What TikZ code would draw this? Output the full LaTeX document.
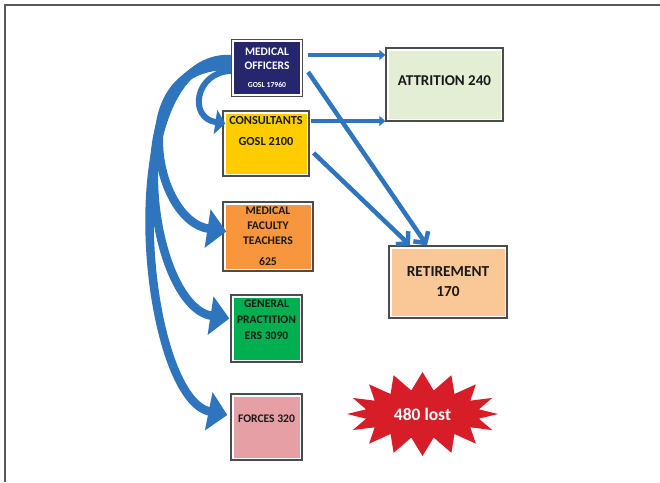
\documentclass[tikz,border=0pt]{standalone}
\usepackage{fontspec}
\setmainfont{Carlito}
\usetikzlibrary{arrows.meta,shapes.symbols}
\definecolor{arrowblue}{RGB}{46,117,190}
\definecolor{navy}{RGB}{38,38,110}
\definecolor{consyellow}{RGB}{255,204,0}
\definecolor{mftorange}{RGB}{247,150,60}
\definecolor{gpgreen}{RGB}{0,176,80}
\definecolor{forcespink}{RGB}{230,160,165}
\definecolor{attrgreen}{RGB}{228,238,212}
\definecolor{retpeach}{RGB}{250,200,150}
\definecolor{burstred}{RGB}{215,30,40}
\begin{document}
\begin{tikzpicture}[x=1pt, y=-1pt,
  box/.style={draw=black!70, line width=1.3pt, fill=white, inner sep=0pt, align=center, text=black!90,
    path picture={\fill[#1] ([shift={(2.5pt,2.5pt)}]path picture bounding box.south west) rectangle ([shift={(-2.5pt,-2.5pt)}]path picture bounding box.north east);}},
  sweep/.style={arrowblue, line width=8.5pt, -{Triangle[length=19pt,width=38pt]}},
  flat/.style={arrowblue, line width=4.5pt, -{Triangle[length=6pt,width=10pt]}},
  slant/.style={arrowblue, line width=4.5pt, -{Straight Barb[length=8pt,width=18pt]}}]
\useasboundingbox (0,0) rectangle (660,482);
\draw[black!65, line width=1.5pt] (5,482) -- (5,5) -- (660,5);

\node[box=navy, text=white, font=\bfseries\fontsize{11.5}{14}\selectfont, minimum width=71pt, minimum height=57pt] (mo) at (267,68) {MEDICAL\\OFFICERS\\[4pt]{\fontsize{7.7}{9}\selectfont GOSL 17960}};
\node[box=consyellow, font=\bfseries\fontsize{12.3}{13}\selectfont, minimum width=86pt, minimum height=65pt, text depth=26pt] (cons) at (266,143.5) {CONSULTANTS\\[8pt]GOSL 2100};
\node[box=mftorange, font=\bfseries\fontsize{11.7}{15}\selectfont, minimum width=90pt, minimum height=69pt] (mft) at (268,236.5) {MEDICAL\\FACULTY\\TEACHERS\\[6pt]625};
\node[box=gpgreen, font=\bfseries\fontsize{11.6}{16}\selectfont, minimum width=71pt, minimum height=67pt, text depth=18pt] (gp) at (266.5,328.5) {GENERAL\\PRACTITION\\ERS 3090};
\node[box=forcespink, font=\bfseries\fontsize{11.6}{14}\selectfont, minimum width=71pt, minimum height=66pt, text depth=16pt] (forces) at (266.5,427) {FORCES 320};
\node[box=attrgreen, font=\bfseries\fontsize{15}{17}\selectfont, minimum width=117pt, minimum height=73pt, text depth=8pt] (attr) at (444.5,84.5) {ATTRITION 240};
\node[box=retpeach, font=\bfseries\fontsize{15.3}{20}\selectfont, minimum width=118pt, minimum height=72pt] (ret) at (448,282) {RETIREMENT\\170};
\node[starburst, starburst points=16, starburst point height=18pt, random starburst=0, fill=burstred, text=white, font=\bfseries\fontsize{17.5}{20}\selectfont, minimum width=151pt, minimum height=84pt, inner sep=0pt] (lost) at (422.5,414) {480 lost};

% staff moving out of medical officers
\draw[sweep] ([yshift=9pt]mo.west) .. controls (110,55) and (142,398) .. ([shift={(-3pt,12pt)}]forces.west);
\draw[sweep] ([yshift=6pt]mo.west) .. controls (115,58) and (148,306) .. ([shift={(-1pt,10pt)}]gp.west);
\draw[sweep] ([yshift=2pt]mo.west) .. controls (125,62) and (152,220) .. ([shift={(4pt,5pt)}]mft.west);
\draw[sweep, line width=6pt, -{Triangle[length=10pt,width=24pt]}] ([yshift=-3pt]mo.west) .. controls (195,72) and (188,118) .. ([shift={(3pt,20pt)}]cons.west);

% losses
\draw[flat] ([shift={(5pt,13pt)}]mo.east) to ([yshift=29.5pt]attr.west);
\draw[slant] ([shift={(5pt,-4pt)}]mo.east) to ([xshift=-21pt]ret.north);
\draw[flat] ([shift={(1pt,22.5pt)}]cons.east) to ([yshift=-36.5pt]attr.west);
\draw[slant] ([shift={(4pt,-9.5pt)}]cons.east) to ([xshift=-38pt]ret.north);
\end{tikzpicture}
\end{document}
